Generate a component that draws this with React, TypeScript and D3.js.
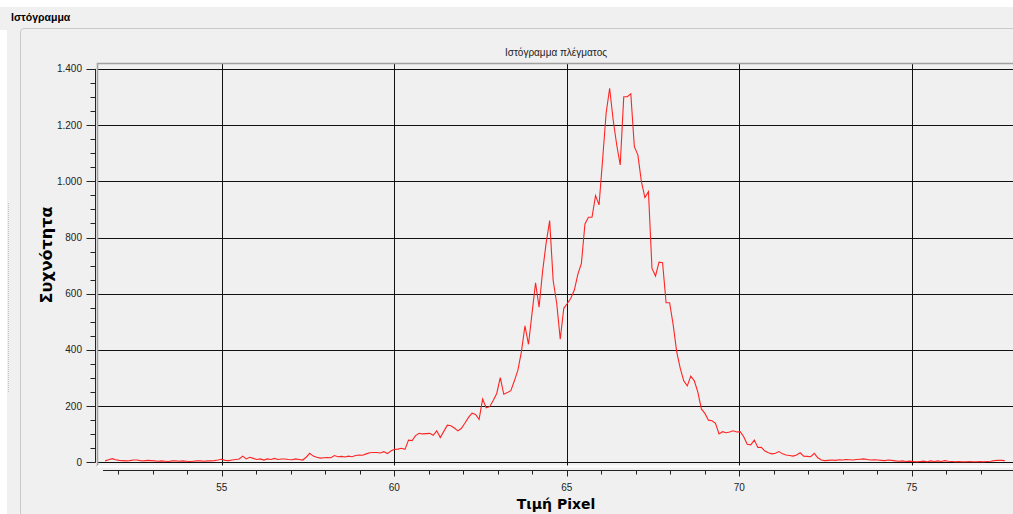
import React from 'react';
import * as d3 from 'd3';

// histogram bins (pixel value) and their counts
const binStart = 51.62;
const binWidth = 0.10227;
const counts = [
  5, 9, 13, 9, 7, 6, 5, 6, 8, 8,
  6, 5, 7, 6, 5, 4, 5, 4, 3, 5,
  5, 4, 5, 4, 3, 4, 5, 5, 4, 5,
  5, 6, 8, 11, 7, 6, 8, 10, 12, 22,
  12, 18, 14, 10, 12, 8, 12, 10, 14, 10,
  12, 12, 10, 9, 12, 10, 8, 18, 32, 22,
  18, 15, 16, 17, 16, 24, 20, 21, 19, 22,
  20, 24, 26, 25, 30, 34, 35, 35, 33, 38,
  31, 40, 46, 47, 50, 46, 79, 77, 95, 103,
  101, 102, 103, 96, 112, 88, 110, 132, 130, 122,
  112, 121, 140, 160, 175, 170, 153, 225, 194, 198,
  220, 245, 301, 242, 248, 255, 290, 328, 394, 486,
  420, 530, 639, 552, 680, 780, 860, 646, 566, 438,
  548, 565, 584, 613, 670, 708, 848, 872, 872, 949,
  916, 1076, 1242, 1331, 1218, 1130, 1058, 1301, 1301, 1311,
  1123, 1094, 999, 942, 963, 690, 663, 712, 710, 568,
  568, 490, 394, 335, 290, 272, 307, 290, 250, 190,
  174, 150, 148, 139, 101, 109, 105, 108, 112, 108,
  109, 91, 64, 62, 79, 53, 53, 40, 34, 30,
  32, 38, 30, 26, 24, 22, 26, 34, 22, 21,
  20, 32, 16, 8, 6, 7, 8, 7, 9, 8,
  10, 9, 8, 10, 11, 12, 10, 8, 9, 8,
  7, 6, 8, 7, 5, 4, 5, 3, 4, 3,
  2, 3, 4, 2, 5, 3, 5, 3, 6, 4,
  3, 2, 3, 2, 2, 3, 2, 2, 3, 2,
  3, 4, 6, 7, 7, 6,
];

const xMajor = [55, 60, 65, 70, 75];
const xMinor = [52, 53, 54, 55, 56, 57, 58, 59, 60, 61, 62, 63, 64, 65, 66, 67, 68, 69, 70, 71, 72, 73, 74, 75, 76, 77];
const yMajor = [0, 200, 400, 600, 800, 1000, 1200, 1400];
const yMinor = d3.range(0, 1401, 50);

const panelTitle = 'Ιστόγραμμα';
const chartTitle = 'Ιστόγραμμα πλέγματος';
const xTitle = 'Τιμή Pixel';
const yTitle = 'Συχνότητα';

const W = 1013;
const H = 514;
const canvas = { left: 97, top: 63, right: 1013, bottom: 467 };
const font = 'Liberation Sans, Arial, sans-serif';

const fmt = (v: number) => d3.format(',')(v).replace(',', '.');

export default function App() {
  const x = d3.scaleLinear().domain([55, 75]).range([221.7, 911.7]);
  const y = d3.scaleLinear().domain([0, 1400]).range([462.3, 68.9]);

  const line = d3
    .line<number>()
    .x((_, i) => x(binStart + i * binWidth))
    .y((d) => y(d));

  const axisY = 95.5;
  const axisX = 470.5;

  return (
    <svg width={W} height={H} style={{ position: 'absolute', left: 0, top: 0 }}>
      <rect width={W} height={H} fill="#ffffff" />
      <rect x={0} y={7} width={W} height={H - 7} fill="#f0f0f0" />
      <rect x={0} y={30} width={7} height={H - 30} fill="#ffffff" />
      <text x={11} y={21} fontFamily={font} fontSize={10.5} fontWeight="bold" fill="#000">
        {panelTitle}
      </text>
      {/* group box */}
      <path d={`M20.5,${H} V32 Q20.5,28.5 24,28.5 H${W}`} fill="none" stroke="#c9c9c9" />
      {/* splitter grip */}
      <line x1={8.5} x2={8.5} y1={203} y2={392} stroke="#c4c4c4" strokeDasharray="1,1" />

      <text x={556} y={56} textAnchor="middle" fontFamily={font} fontSize={10} fill="#222">
        {chartTitle}
      </text>

      {/* canvas */}
      <defs>
        <clipPath id="cv">
          <rect x={canvas.left} y={canvas.top} width={canvas.right - canvas.left} height={canvas.bottom - canvas.top} />
        </clipPath>
      </defs>
      <rect x={canvas.left} y={canvas.top} width={canvas.right - canvas.left} height={canvas.bottom - canvas.top} fill="#f0f0f0" />
      <g clipPath="url(#cv)">
        {yMajor.map((v) => (
          <line key={'gy' + v} x1={canvas.left} x2={canvas.right} y1={Math.round(y(v)) + 0.5} y2={Math.round(y(v)) + 0.5} stroke="#111" />
        ))}
        {xMajor.map((v) => (
          <line key={'gx' + v} x1={Math.round(x(v)) + 0.5} x2={Math.round(x(v)) + 0.5} y1={canvas.top} y2={canvas.bottom} stroke="#111" />
        ))}
        <path d={line(counts) || ''} fill="none" stroke="#ff2424" strokeWidth={1.1} />
      </g>
      <path
        d={`M${canvas.left + 0.5},${canvas.bottom} V${canvas.top + 0.5} H${canvas.right}`}
        fill="none"
        stroke="#a0a0a0"
        strokeWidth={1.5}
      />
      <line x1={canvas.left} x2={canvas.right} y1={canvas.bottom - 0.5} y2={canvas.bottom - 0.5} stroke="#ffffff" strokeWidth={2} />

      {/* y axis */}
      <line x1={axisY} x2={axisY} y1={y(1400)} y2={y(0)} stroke="#222" />
      {yMinor.map((v) => (
        <line key={'ym' + v} x1={axisY - 5} x2={axisY} y1={Math.round(y(v)) + 0.5} y2={Math.round(y(v)) + 0.5} stroke="#222" />
      ))}
      {yMajor.map((v) => (
        <g key={'yl' + v}>
          <line x1={axisY - 9} x2={axisY} y1={Math.round(y(v)) + 0.5} y2={Math.round(y(v)) + 0.5} stroke="#222" />
          <text x={82} y={y(v) + 3.5} textAnchor="end" fontFamily={font} fontSize={10} fill="#222">
            {fmt(v)}
          </text>
        </g>
      ))}
      <text
        transform={`translate(52,255) rotate(-90)`}
        textAnchor="middle"
        fontFamily="DejaVu Sans, sans-serif"
        fontSize={16}
        fontWeight="bold"
        fill="#000"
      >
        {yTitle}
      </text>

      {/* x axis */}
      <line x1={103} x2={W} y1={axisX} y2={axisX} stroke="#222" />
      {xMinor.map((v) => (
        <line key={'xm' + v} x1={Math.round(x(v)) + 0.5} x2={Math.round(x(v)) + 0.5} y1={axisX} y2={axisX + 4} stroke="#222" />
      ))}
      {xMajor.map((v) => (
        <g key={'xl' + v}>
          <line x1={Math.round(x(v)) + 0.5} x2={Math.round(x(v)) + 0.5} y1={axisX} y2={axisX + 6} stroke="#222" />
          <text x={x(v)} y={491} textAnchor="middle" fontFamily={font} fontSize={10} fill="#222">
            {v}
          </text>
        </g>
      ))}
      <text x={556} y={509} textAnchor="middle" fontFamily="DejaVu Sans, sans-serif" fontSize={14} fontWeight="bold" fill="#000">
        {xTitle}
      </text>
    </svg>
  );
}
